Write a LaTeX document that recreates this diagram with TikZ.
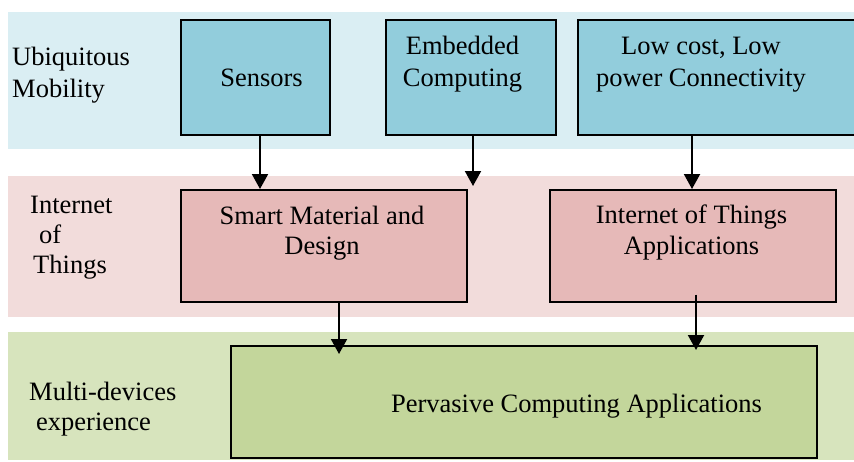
\documentclass[tikz,border=0pt]{standalone}
\usepackage{fontspec}
\setmainfont{Liberation Serif}
\usetikzlibrary{arrows.meta}
\definecolor{bandblue}{HTML}{DAEEF3}
\definecolor{boxblue}{HTML}{92CDDC}
\definecolor{bandpink}{HTML}{F2DCDB}
\definecolor{boxpink}{HTML}{E6B9B8}
\definecolor{bandgreen}{HTML}{D7E4BD}
\definecolor{boxgreen}{HTML}{C3D69B}
\tikzset{
  blockbox/.style={draw=black,line width=1.6pt,inner sep=0pt},
  txt/.style={inner sep=0pt,font=\fontsize{26.5}{31}\selectfont},
  arr/.style={line width=2pt,-{Triangle[width=16pt,length=15pt]}}
}
\begin{document}
\begin{tikzpicture}[x=1pt,y=-1pt]
\useasboundingbox (0,0) rectangle (854,461);
% bands
\fill[bandblue] (8,12) rectangle (854,149);
\fill[bandpink] (8,176) rectangle (854,317);
\fill[bandgreen] (8,332) rectangle (854,460);
% boxes
\node[blockbox,fill=boxblue,anchor=north west,minimum width=149pt,minimum height=115pt] (sens) at (180,19) {};
\node[blockbox,fill=boxblue,anchor=north west,minimum width=170pt,minimum height=115pt] (emb) at (385,19) {};
\node[blockbox,fill=boxblue,anchor=north west,minimum width=280pt,minimum height=115pt] (low) at (577,19) {};
\node[blockbox,fill=boxpink,anchor=north west,minimum width=286pt,minimum height=112pt] (smart) at (180,189) {};
\node[blockbox,fill=boxpink,anchor=north west,minimum width=286pt,minimum height=112pt] (iota) at (549,189) {};
\node[blockbox,fill=boxgreen,anchor=north west,minimum width=586pt,minimum height=112pt] (perv) at (230,345) {};
% texts (base anchor = baseline of last line)
\node[txt,anchor=base west,align=left] (lab1) at (12,97) {Ubiquitous\\[1pt]Mobility};
\node[txt,anchor=base west,align=left] (lab2) at (30,273) {Internet\\[-1pt]\hspace*{9pt}of\\[-1pt]\hspace*{3pt}Things};
\node[txt,anchor=base west,align=left] (lab3) at (29,430) {Multi-devices\\[-1pt]\hspace*{7pt}experience};
\node[txt,anchor=base] (tsens) at (261.5,86) {Sensors};
\node[txt,anchor=base,align=center] (temb) at (462.5,86) {Embedded\\[1pt]Computing};
\node[txt,anchor=base,align=center] (tlow) at (701,86) {Low cost, Low\\[1pt]power Connectivity};
\node[txt,anchor=base,align=center] (tsmart) at (322,254) {Smart Material and\\[-1pt]Design};
\node[txt,anchor=base,align=center] (tiota) at (691.5,254) {Internet of Things\\Applications};
\node[txt,anchor=base] (tperv) at (576.5,412) {Pervasive Computing Applications};
% arrows
\coordinate (xa) at (260,0);
\coordinate (xb) at (473,0);
\coordinate (xc) at (692,0);
\coordinate (xd) at (339,0);
\coordinate (xe) at (696,0);
\coordinate (embend) at (473,186);
\draw[arr] (sens.south -| xa) -- (smart.north -| xa);
\draw[arr] (emb.south -| xb) -- (embend);
\draw[arr] (low.south -| xc) -- (iota.north -| xc);
\draw[arr] (smart.south -| xd) -- ([yshift=-9pt]perv.north -| xd);
\draw[arr] ([yshift=8pt]iota.south -| xe) -- ([yshift=-5pt]perv.north -| xe);
\end{tikzpicture}
\end{document}
